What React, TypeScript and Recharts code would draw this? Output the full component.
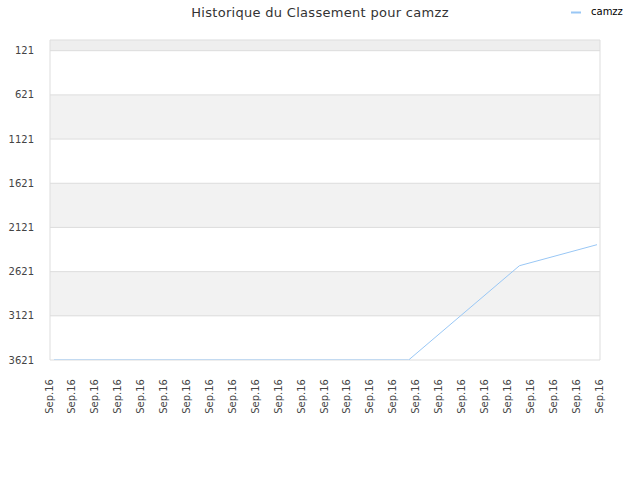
import React from 'react';
import { ComposedChart, Line, XAxis, YAxis, CartesianGrid } from 'recharts';

const title = 'Historique du Classement pour camzz';
const seriesName = 'camzz';

// x tick labels (25 evenly spaced date labels)
const xTickLabels = [
  'Sep.16', 'Sep.16', 'Sep.16', 'Sep.16', 'Sep.16', 'Sep.16', 'Sep.16', 'Sep.16', 'Sep.16',
  'Sep.16', 'Sep.16', 'Sep.16', 'Sep.16', 'Sep.16', 'Sep.16', 'Sep.16', 'Sep.16', 'Sep.16',
  'Sep.16', 'Sep.16', 'Sep.16', 'Sep.16', 'Sep.16', 'Sep.16', 'Sep.16',
];
const xTickPositions = [0, 1, 2, 3, 4, 5, 6, 7, 8, 9, 10, 11, 12, 13, 14, 15, 16, 17, 18, 19, 20, 21, 22, 23, 24];

// y axis (rank, reversed)
const yTicks = [121, 621, 1121, 1621, 2121, 2621, 3121, 3621];
const yDomainMax = 3621;

// series: sample index and rank
const sampleIndex = [0, 32, 42, 49];
const rankValues = [3621, 3621, 2554, 2316];
const sampleMax = 49;

const lineData = sampleIndex.map((i, k) => ({ i, rank: rankValues[k] }));

const XTick = (props: any) => {
  const { x, y, payload } = props;
  const label = xTickLabels[payload.index] ?? xTickLabels[0];
  return (
    <text
      x={0}
      y={0}
      transform={`translate(${x - 1},${y + 11}) rotate(-90)`}
      textAnchor="end"
      dominantBaseline="central"
      fontSize={10}
      fill="#444"
      fontFamily="DejaVu Sans"
    >
      {label}
    </text>
  );
};

const YTick = (props: any) => {
  const { x, y, payload } = props;
  return (
    <text
      x={x}
      y={y}
      textAnchor="end"
      dominantBaseline="central"
      fontSize={10}
      fill="#444"
      fontFamily="DejaVu Sans"
    >
      {payload.value}
    </text>
  );
};

export default function App() {
  return (
    <div style={{ position: 'absolute', left: 0, top: 0, width: 640, height: 480, background: '#fff' }}>
      <ComposedChart
        width={640}
        height={480}
        data={lineData}
        margin={{ top: 40, right: 40, bottom: 60, left: 0 }}
      >
        <CartesianGrid
          stroke="#dddddd"
          horizontalValues={[0, ...yTicks]}
          verticalValues={[0, 24]}
          horizontalFill={['#eeeeee', '#ffffff', '#f2f2f2', '#ffffff', '#f2f2f2', '#ffffff', '#f2f2f2', '#ffffff']}
          fillOpacity={1}
        />
        <XAxis
          type="number"
          dataKey="i"
          domain={[0, 24]}
          allowDataOverflow
          ticks={xTickPositions}
          interval={0}
          axisLine={false}
          tickLine={false}
          height={60}
          tick={(p: any) => <XTick {...p} />}
        />
        <XAxis
          xAxisId="line"
          type="number"
          dataKey="i"
          domain={[0, sampleMax]}
          allowDataOverflow
          padding={{ left: 4, right: 3 }}
          hide
        />
        <YAxis
          type="number"
          reversed
          domain={[0, yDomainMax]}
          allowDataOverflow
          ticks={yTicks}
          interval={0}
          axisLine={false}
          tickLine={false}
          width={50}
          tickMargin={10}
          tick={(p: any) => <YTick {...p} />}
        />
        <Line
          xAxisId="line"
          type="linear"
          dataKey="rank"
          stroke="#99c7f5"
          strokeWidth={1}
          dot={false}
          isAnimationActive={false}
        />
      </ComposedChart>
      <svg
        width={640}
        height={480}
        style={{ position: 'absolute', left: 0, top: 0, pointerEvents: 'none' }}
      >
        <text
          x={320}
          y={17}
          textAnchor="middle"
          fontSize={13}
          letterSpacing={0.3}
          fill="#333"
          fontFamily="DejaVu Sans"
        >
          {title}
        </text>
        <line x1={571} y1={12.5} x2={581} y2={12.5} stroke="#99c7f5" strokeWidth={2} />
        <text x={591} y={15} fontSize={10} fill="#000" fontFamily="DejaVu Sans">
          {seriesName}
        </text>
      </svg>
    </div>
  );
}
